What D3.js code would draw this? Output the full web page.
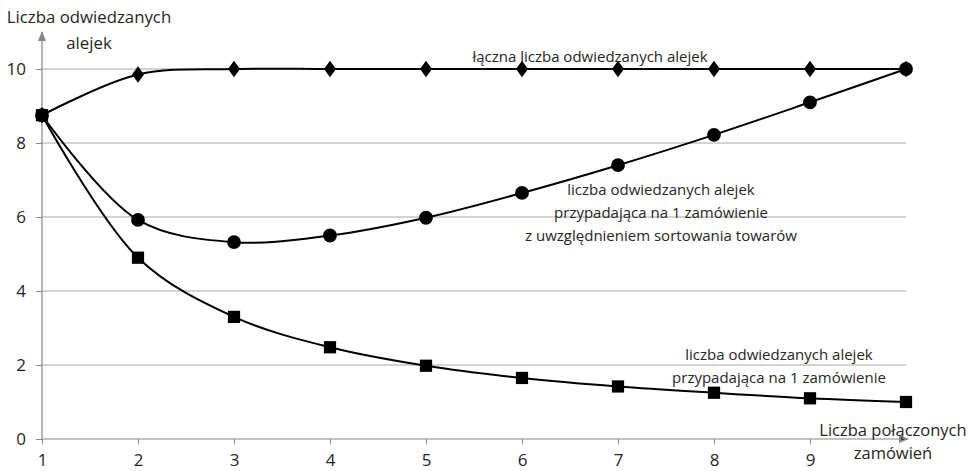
<!DOCTYPE html>
<html>
<head>
<meta charset="utf-8">
<script src="https://cdn.jsdelivr.net/npm/d3@7"></script>
<style>
  body { margin: 0; background: #fff; }
  svg text { font-family: "Open Sans", "Liberation Sans", sans-serif; fill: #262626; }
</style>
</head>
<body>
<svg id="chart" width="970" height="471"></svg>
<script>
// Number of merged orders (x) and three series of visited aisles
const orders = [1, 2, 3, 4, 5, 6, 7, 8, 9, 10];
const xTickLabels = [1, 2, 3, 4, 5, 6, 7, 8, 9];
const yTicks = [0, 2, 4, 6, 8, 10];
const totalAisles = [8.75, 9.85, 10, 10, 10, 10, 10, 10, 10, 10];
const perOrderSorted = [8.75, 5.92, 5.32, 5.5, 5.98, 6.65, 7.4, 8.22, 9.1, 10];
const perOrder = [8.75, 4.9, 3.3, 2.48, 1.98, 1.65, 1.42, 1.25, 1.1, 1.0];

const svg = d3.select("#chart");
const x = d3.scaleLinear().domain([1, 10]).range([42, 906]);
const y = d3.scaleLinear().domain([0, 10]).range([439, 69]);

const gridColor = "#a6a6a6";
const axisColor = "#868686";

// horizontal gridlines
svg.append("g").selectAll("line").data(yTicks.filter(d => d > 0)).join("line")
  .attr("x1", x(1)).attr("x2", x(10))
  .attr("y1", d => y(d)).attr("y2", d => y(d))
  .attr("stroke", gridColor).attr("stroke-width", 1);

// arrow heads
const defs = svg.append("defs");
defs.append("marker").attr("id", "arrow").attr("viewBox", "0 0 10 10")
  .attr("refX", 9).attr("refY", 5).attr("markerWidth", 10).attr("markerHeight", 10)
  .attr("markerUnits", "userSpaceOnUse").attr("orient", "auto")
  .append("path").attr("d", "M0,1 L10,5 L0,9 Z").attr("fill", axisColor);

// y axis
const yAxis = d3.axisLeft(y).tickValues(yTicks).tickSize(6).tickFormat(d3.format("d"));
const gy = svg.append("g").attr("transform", `translate(${x(1)},0)`).call(yAxis);
gy.select(".domain").remove();
gy.selectAll("line").attr("stroke", axisColor);
gy.selectAll("text").attr("font-size", 17).attr("x", -16).attr("fill", "#262626")
  .style("font-family", "'Open Sans', sans-serif");
svg.append("line").attr("x1", x(1)).attr("x2", x(1)).attr("y1", y(0)).attr("y2", 32)
  .attr("stroke", axisColor).attr("stroke-width", 1.2).attr("marker-end", "url(#arrow)");

// x axis
const xAxis = d3.axisBottom(x).tickValues(xTickLabels).tickSize(5).tickFormat(d3.format("d"));
const gx = svg.append("g").attr("transform", `translate(0,${y(0)})`).call(xAxis);
gx.select(".domain").remove();
gx.selectAll("line").attr("stroke", axisColor);
gx.selectAll("text").attr("font-size", 17).attr("dy", "1.1em").attr("fill", "#262626")
  .style("font-family", "'Open Sans', sans-serif");
svg.append("line").attr("x1", x(1)).attr("x2", 908).attr("y1", y(0)).attr("y2", y(0))
  .attr("stroke", axisColor).attr("stroke-width", 1.2).attr("marker-end", "url(#arrow)");

// series lines
const line = d3.line().x((d, i) => x(orders[i])).y(d => y(d)).curve(d3.curveCatmullRom.alpha(0.5));
const series = [
  { values: totalAisles, symbol: d3.symbolDiamond, size: 80 },
  { values: perOrderSorted, symbol: d3.symbolCircle, size: 150 },
  { values: perOrder, symbol: d3.symbolSquare, size: 150 }
];
series.forEach(s => {
  svg.append("path").datum(s.values).attr("d", line)
    .attr("fill", "none").attr("stroke", "#000").attr("stroke-width", 2);
});
series.forEach(s => {
  const sym = d3.symbol().type(s.symbol).size(s.size);
  svg.append("g").selectAll("path").data(s.values).join("path")
    .attr("d", sym)
    .attr("transform", (d, i) => `translate(${x(orders[i])},${y(d)})` + (s.symbol === d3.symbolDiamond ? " scale(1.25,1)" : ""))
    .attr("fill", "#000");
});

// text labels
function label(lines, cx, y0, dy, size) {
  const t = svg.append("text").attr("font-size", size || 15).attr("text-anchor", "middle");
  lines.forEach((l, i) => t.append("tspan").attr("x", cx).attr("y", y0 + i * dy).text(l));
}
label(["Liczba odwiedzanych", "alejek"], 89, 23, 26, 16.8);
label(["Liczba połączonych", "zamówień"], 893, 436, 23, 16.5);
label(["łączna liczba odwiedzanych alejek"], 590, 62, 0);
label(["liczba odwiedzanych  alejek", "przypadająca na 1 zamówienie", "z uwzględnieniem sortowania towarów"], 661, 195, 23);
label(["liczba odwiedzanych  alejek", "przypadająca na 1 zamówienie"], 779, 360, 23);
</script>
</body>
</html>
